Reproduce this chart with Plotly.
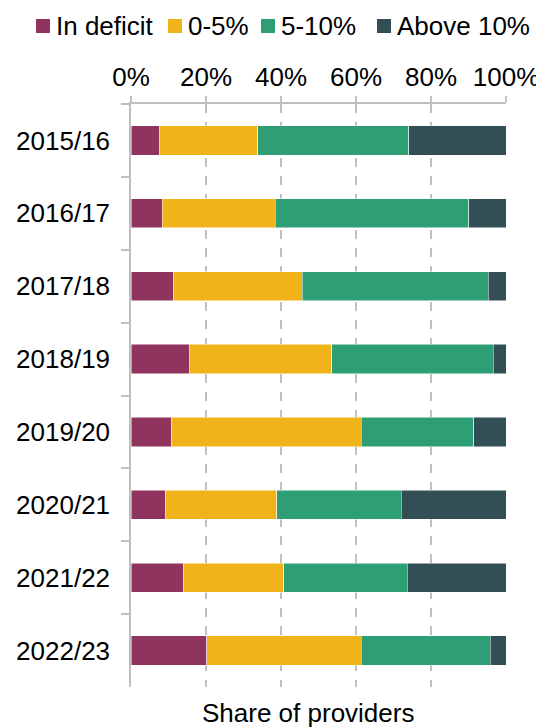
import plotly.graph_objects as go

# ── Data (share of providers, %) ──────────────────────────────────────────────
YEARS = ["2015/16", "2016/17", "2017/18", "2018/19",
         "2019/20", "2020/21", "2021/22", "2022/23"]

IN_DEFICIT = [7.5, 8.3, 11.2, 15.7, 10.7, 9.1, 13.9, 20.2]
PCT_0_5    = [26.3, 30.2, 34.5, 37.8, 50.7, 29.8, 26.8, 41.2]
PCT_5_10   = [40.2, 51.6, 49.6, 43.1, 30.0, 33.2, 33.0, 34.4]
ABOVE_10   = [26.0, 9.9, 4.7, 3.4, 8.6, 27.9, 26.3, 4.2]

SERIES = [
    ("In deficit", IN_DEFICIT, "#8F335F"),
    ("0-5%",       PCT_0_5,    "#F0B41A"),
    ("5-10%",      PCT_5_10,   "#2E9E74"),
    ("Above 10%",  ABOVE_10,   "#324F55"),
]

X_TICKS = [0, 20, 40, 60, 80, 100]
X_TICK_LABELS = ["0%", "20%", "40%", "60%", "80%", "100%"]

# ── Style ─────────────────────────────────────────────────────────────────────
# page body has an 8px margin, so the figure is 8px smaller and offset
PAGE_OFF = 8
W, H = 536, 719
MARGIN = dict(l=123, r=38, t=96, b=40)
AXIS_GREY = "#bfbfbf"
FONT = dict(family="Liberation Sans, Arial, sans-serif", size=26, color="#000000")


def px2x(px):
    # page pixel -> paper x
    return (px - PAGE_OFF - MARGIN["l"]) / (W - MARGIN["l"] - MARGIN["r"])


def px2y(py):
    # page pixel -> paper y
    return (H - MARGIN["b"] - (py - PAGE_OFF)) / (H - MARGIN["t"] - MARGIN["b"])


fig = go.Figure()
for name, vals, color in SERIES:
    fig.add_trace(go.Bar(
        y=YEARS,
        x=vals,
        name=name,
        orientation="h",
        marker=dict(color=color, line=dict(color="white", width=0.5)),
        showlegend=False,
    ))

# hand-placed legend (tighter than plotly's built-in spacing)
legend_pos = [36, 168, 261, 377]
shapes, annotations = [], []
for (name, _, color), lx in zip(SERIES, legend_pos):
    shapes.append(dict(
        type="rect", xref="paper", yref="paper",
        x0=px2x(lx), x1=px2x(lx + 14), y0=px2y(33), y1=px2y(19),
        fillcolor=color, line=dict(width=0),
    ))
    annotations.append(dict(
        text=name, xref="paper", yref="paper",
        x=px2x(lx + 18), y=px2y(26), xanchor="left", yanchor="middle",
        showarrow=False, font=FONT,
    ))

annotations.append(dict(
    text="Share of providers", xref="paper", yref="paper",
    x=px2x(308), y=px2y(713), xanchor="center", yanchor="middle",
    showarrow=False, font=FONT,
))

fig.update_layout(
    width=W,
    height=H,
    margin=MARGIN,
    barmode="stack",
    bargap=0.6,
    font=FONT,
    plot_bgcolor="white",
    paper_bgcolor="white",
    shapes=shapes,
    annotations=annotations,
    xaxis=dict(
        side="top",
        range=[0, 100],
        tickvals=X_TICKS,
        ticktext=X_TICK_LABELS,
        ticks="outside",
        ticklen=6,
        tickcolor=AXIS_GREY,
        tickwidth=1.5,
        showline=True,
        linecolor=AXIS_GREY,
        linewidth=1.5,
        showgrid=True,
        gridcolor=AXIS_GREY,
        gridwidth=1.5,
        griddash="dash",
        zeroline=False,
        tickfont=FONT,
        automargin=False,
    ),
    yaxis=dict(
        type="category",
        autorange="reversed",
        ticks="outside",
        tickson="boundaries",
        ticklen=8,
        tickcolor=AXIS_GREY,
        tickwidth=1.5,
        showline=True,
        linecolor=AXIS_GREY,
        linewidth=1.5,
        showgrid=False,
        tickfont=FONT,
        ticklabelstandoff=14,
        automargin=False,
    ),
)

fig.write_html("out.html")
